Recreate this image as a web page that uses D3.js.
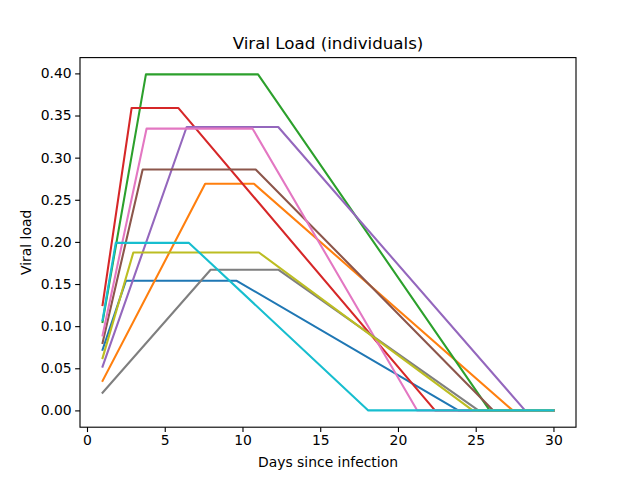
<!DOCTYPE html>
<html>
<head>
<meta charset="utf-8">
<script src="https://cdn.jsdelivr.net/npm/d3@7"></script>
<style>
  html, body { margin: 0; padding: 0; background: #fff; }
  svg text { font-family: "DejaVu Sans", sans-serif; fill: #000; }
</style>
</head>
<body>
<div id="chart"></div>
<script>
// ── Data (knots of each piecewise-linear curve: day, viral load) ─────────────

const colors = ["#1f77b4", "#ff7f0e", "#2ca02c", "#d62728", "#9467bd",
                "#8c564b", "#e377c2", "#7f7f7f", "#bcbd22", "#17becf"];

const days0 = [1, 2.50, 9.63, 23.88, 30];  const load0 = [0.072, 0.1538, 0.1538, 0, 0];
const days1 = [1, 7.60, 10.74, 27.38, 30]; const load1 = [0.035, 0.269, 0.269, 0, 0];
const days2 = [1, 3.79, 11.00, 25.90, 30]; const load2 = [0.105, 0.3988, 0.3988, 0, 0];
const days3 = [1, 2.87, 5.87, 22.38, 30];  const load3 = [0.125, 0.359, 0.359, 0, 0];
const days4 = [1, 6.41, 12.30, 28.17, 30]; const load4 = [0.052, 0.3364, 0.3364, 0, 0];
const days5 = [1, 3.58, 10.85, 26.13, 30]; const load5 = [0.080, 0.286, 0.286, 0, 0];
const days6 = [1, 3.83, 10.65, 21.24, 30]; const load6 = [0.089, 0.3344, 0.3344, 0, 0];
const days7 = [1, 7.95, 12.30, 25.17, 30]; const load7 = [0.021, 0.167, 0.167, 0, 0];
const days8 = [1, 2.98, 11.06, 24.80, 30]; const load8 = [0.062, 0.1874, 0.1874, 0, 0];
const days9 = [1, 1.85, 6.56, 18.09, 30];  const load9 = [0.107, 0.1988, 0.1988, 0, 0];

const allDays  = [days0, days1, days2, days3, days4, days5, days6, days7, days8, days9];
const allLoads = [load0, load1, load2, load3, load4, load5, load6, load7, load8, load9];

const xTicks = [0, 5, 10, 15, 20, 25, 30];
const yTicks = [0, 0.05, 0.10, 0.15, 0.20, 0.25, 0.30, 0.35, 0.40];

// ── Layout (matplotlib defaults at 640x480) ──────────────────────────────────

const W = 640, H = 480;
const M = { left: 80, right: 64, top: 57.6, bottom: 52.8 };
const iW = W - M.left - M.right;
const iH = H - M.top - M.bottom;

function padded(lo, hi) {
  const p = (hi - lo) * 0.05;
  return [lo - p, hi + p];
}

const xMin = d3.min(allDays, d => d3.min(d)), xMax = d3.max(allDays, d => d3.max(d));
const yMin = d3.min(allLoads, d => d3.min(d)), yMax = d3.max(allLoads, d => d3.max(d));

const x = d3.scaleLinear().domain(padded(xMin, xMax)).range([0, iW]);
const y = d3.scaleLinear().domain(padded(yMin, yMax)).range([iH, 0]);

const svg = d3.select("#chart").append("svg")
  .attr("width", W).attr("height", H)
  .attr("viewBox", `0 0 ${W} ${H}`);

const g = svg.append("g").attr("transform", `translate(${M.left},${M.top})`);

// Lines
const line = d3.line().x(d => x(d[0])).y(d => y(d[1]));

allDays.forEach((ds, i) => {
  const pts = ds.map((d, j) => [d, allLoads[i][j]]);
  g.append("path")
    .datum(pts)
    .attr("fill", "none")
    .attr("stroke", colors[i])
    .attr("stroke-width", 2.08)
    .attr("stroke-linejoin", "round")
    .attr("stroke-linecap", "square")
    .attr("d", line);
});

// Axes
const xAxis = g.append("g")
  .attr("transform", `translate(0,${iH})`)
  .call(d3.axisBottom(x).tickValues(xTicks).tickFormat(d3.format("d"))
    .tickSizeInner(4.86).tickSizeOuter(0).tickPadding(3.5));

const yAxis = g.append("g")
  .call(d3.axisLeft(y).tickValues(yTicks).tickFormat(d3.format(".2f"))
    .tickSizeInner(4.86).tickSizeOuter(0).tickPadding(3.5));

[xAxis, yAxis].forEach(a => {
  a.select(".domain").remove();
  a.selectAll(".tick line").attr("stroke", "#000").attr("stroke-width", 1.11);
  a.selectAll(".tick text")
    .attr("font-size", "13.9px")
    .attr("font-family", "DejaVu Sans, sans-serif");
});

// Frame
g.append("rect")
  .attr("x", 0).attr("y", 0).attr("width", iW).attr("height", iH)
  .attr("fill", "none").attr("stroke", "#000").attr("stroke-width", 1.11);

// Labels
svg.append("text")
  .attr("x", M.left + iW / 2).attr("y", M.top - 8.3)
  .attr("text-anchor", "middle")
  .attr("font-size", "16.7px")
  .text("Viral Load (individuals)");

svg.append("text")
  .attr("x", M.left + iW / 2).attr("y", 467)
  .attr("text-anchor", "middle")
  .attr("font-size", "13.9px")
  .text("Days since infection");

svg.append("text")
  .attr("transform", `translate(31,${M.top + iH / 2}) rotate(-90)`)
  .attr("text-anchor", "middle")
  .attr("font-size", "13.9px")
  .text("Viral load");
</script>
</body>
</html>
